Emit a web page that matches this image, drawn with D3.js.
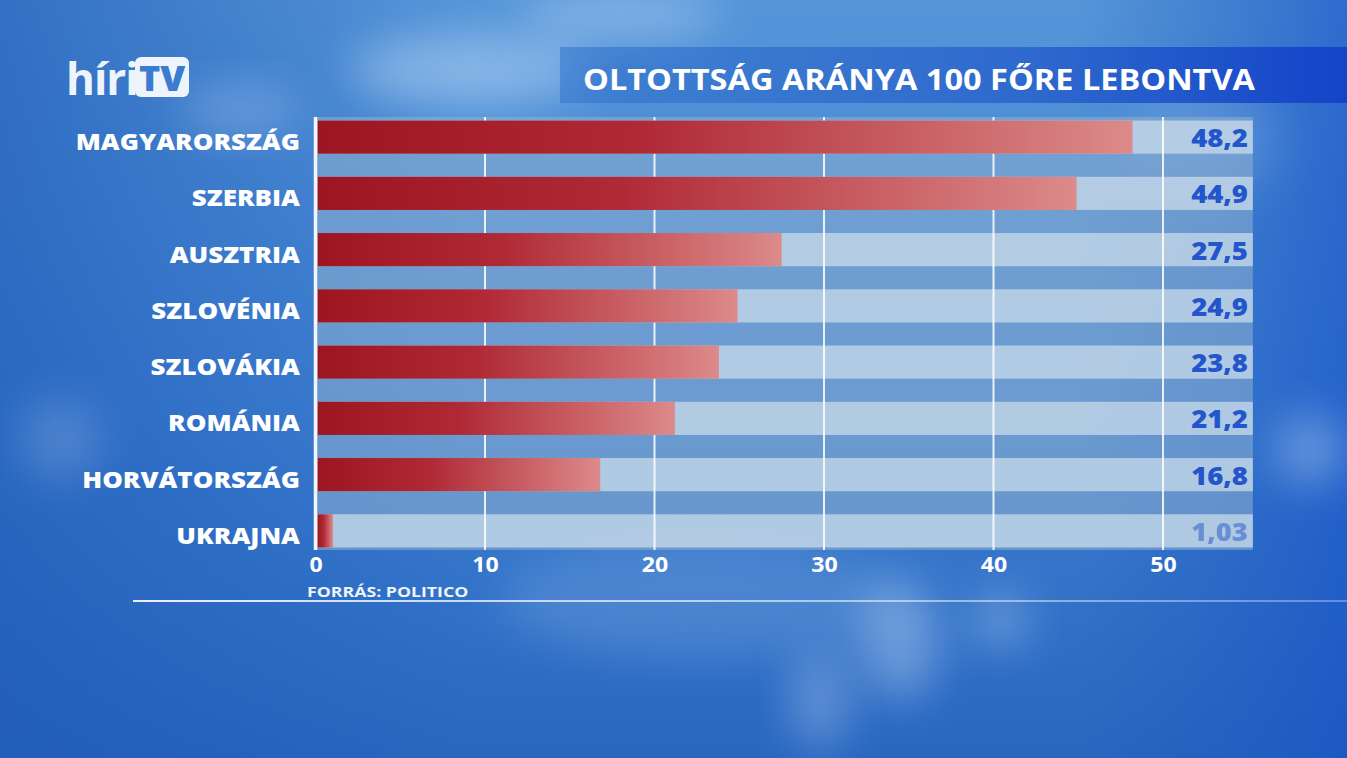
<!DOCTYPE html>
<html>
<head>
<meta charset="utf-8">
<script src="https://cdn.jsdelivr.net/npm/d3@7"></script>
<style>
html,body{margin:0;padding:0;background:#2f6fc6;overflow:hidden;}
svg{display:block;}
text{font-family:"Open Sans","Lato",sans-serif;}
</style>
</head>
<body>
<script>
const categories = ["MAGYARORSZÁG","SZERBIA","AUSZTRIA","SZLOVÉNIA","SZLOVÁKIA","ROMÁNIA","HORVÁTORSZÁG","UKRAJNA"];
const values = [48.2, 44.9, 27.5, 24.9, 23.8, 21.2, 16.8, 1.03];
const valueLabels = ["48,2","44,9","27,5","24,9","23,8","21,2","16,8","1,03"];
const tickValues = [0, 10, 20, 30, 40, 50];
const titleText = "OLTOTTSÁG ARÁNYA 100 FŐRE LEBONTVA";
const sourceText = "FORRÁS: POLITICO";
const xMax = 55.3;

const W = 1347, H = 758;
const svg = d3.select("body").append("svg").attr("width", W).attr("height", H);
const defs = svg.append("defs");

// widen text glyphs to mimic the broad geometric broadcast font
function widen(sel, factor){
  sel.each(function(){
    const len = this.getComputedTextLength();
    d3.select(this).attr("textLength", len*factor).attr("lengthAdjust","spacingAndGlyphs");
  });
}

// background gradients
const bg = defs.append("linearGradient").attr("id","bg").attr("x1",0).attr("y1",0).attr("x2",0).attr("y2",1);
bg.append("stop").attr("offset","0%").attr("stop-color","#5595d8");
bg.append("stop").attr("offset","55%").attr("stop-color","#3d7fd1");
bg.append("stop").attr("offset","100%").attr("stop-color","#2866c0");
const bgR = defs.append("linearGradient").attr("id","bgR").attr("x1",0).attr("y1",0).attr("x2",1).attr("y2",0);
bgR.append("stop").attr("offset","0%").attr("stop-color","#1d58b6").attr("stop-opacity",0.6);
bgR.append("stop").attr("offset","35%").attr("stop-color","#1d58b6").attr("stop-opacity",0);
bgR.append("stop").attr("offset","80%").attr("stop-color","#1d58b6").attr("stop-opacity",0);
bgR.append("stop").attr("offset","100%").attr("stop-color","#1450c8").attr("stop-opacity",0.6);
const blur = defs.append("filter").attr("id","blur").attr("x","-50%").attr("y","-50%").attr("width","200%").attr("height","200%");
blur.append("feGaussianBlur").attr("stdDeviation",22);

svg.append("rect").attr("width",W).attr("height",H).attr("fill","url(#bg)");
svg.append("rect").attr("width",W).attr("height",H).attr("fill","url(#bgR)");

// soft glows (decorative)
const glows = [[470,70,120,35,0.4],[620,15,100,25,0.35],[240,110,60,25,0.25],[900,640,40,60,0.35],[820,700,30,50,0.3],[1000,620,30,30,0.3],[1310,450,35,35,0.35],[700,600,200,60,0.15],[60,440,40,40,0.2],[1200,140,80,60,0.15]];
svg.append("g").selectAll("ellipse").data(glows).join("ellipse")
  .attr("cx",d=>d[0]).attr("cy",d=>d[1]).attr("rx",d=>d[2]).attr("ry",d=>d[3])
  .attr("fill","#d8ecff").attr("opacity",d=>d[4]).attr("filter","url(#blur)");

// header banner
const ban = defs.append("linearGradient").attr("id","ban").attr("x1",0).attr("y1",0).attr("x2",1).attr("y2",0);
ban.append("stop").attr("offset","0%").attr("stop-color","#3273cc").attr("stop-opacity",0.55);
ban.append("stop").attr("offset","60%").attr("stop-color","#2a64cc").attr("stop-opacity",0.9);
ban.append("stop").attr("offset","100%").attr("stop-color","#1443c8");
svg.append("rect").attr("x",560).attr("y",47).attr("width",W-560).attr("height",56).attr("fill","url(#ban)");
svg.append("text").attr("x",583).attr("y",90)
  .attr("fill","#ffffff").attr("font-size",28).attr("font-weight",700)
  .attr("textLength",672).attr("lengthAdjust","spacingAndGlyphs").text(titleText);

// logo
const logo = svg.append("g");
logo.append("text").attr("x",66).attr("y",95).attr("fill","#eef4fb").attr("font-size",44).attr("font-weight",700)
  .attr("font-family","Lato, sans-serif").attr("letter-spacing",-1).text("híri");
logo.append("rect").attr("x",135).attr("y",57).attr("width",54).attr("height",40).attr("rx",6).attr("fill","#eef4fb");
logo.append("text").attr("x",162).attr("y",91).attr("text-anchor","middle").attr("fill","#3b7bd0").attr("font-size",36)
  .attr("font-weight",900).attr("font-family","Lato, sans-serif").text("TV");

// scales
const x = d3.scaleLinear().domain([0, xMax]).range([315.5, 315.5 + xMax*16.95]);
const y = d3.scaleBand().domain(categories).range([109, 559]).paddingInner(0.41).paddingOuter(0.205);

// panel
const panelTop = 117, panelBot = 550;
svg.append("rect").attr("x",x(0)).attr("y",panelTop).attr("width",x(xMax)-x(0)).attr("height",panelBot-panelTop)
  .attr("fill","#90b0d0").attr("opacity",0.55);
// light row strips
svg.append("g").selectAll("rect").data(categories).join("rect")
  .attr("x",x(0)).attr("y",d=>y(d)).attr("width",x(xMax)-x(0)).attr("height",y.bandwidth())
  .attr("fill","#c9dbea").attr("opacity",0.75);

// grid
svg.append("g").selectAll("line").data(tickValues.filter(t=>t>0)).join("line")
  .attr("x1",d=>x(d)).attr("x2",d=>x(d)).attr("y1",panelTop).attr("y2",panelBot)
  .attr("stroke","#ffffff").attr("stroke-opacity",0.85).attr("stroke-width",2);

// bar gradient
const bgBar = defs.append("linearGradient").attr("id","barG").attr("x1",0).attr("y1",0).attr("x2",1).attr("y2",0);
bgBar.append("stop").attr("offset","0%").attr("stop-color","#9c1520");
bgBar.append("stop").attr("offset","40%").attr("stop-color","#b02a36");
bgBar.append("stop").attr("offset","100%").attr("stop-color","#dc8a8a");

svg.append("g").selectAll("rect").data(values).join("rect")
  .attr("x",x(0)+2).attr("y",(d,i)=>y(categories[i]))
  .attr("width",d=>x(d)-x(0)-2).attr("height",y.bandwidth())
  .attr("fill","url(#barG)");

// zero line
svg.append("line").attr("x1",x(0)).attr("x2",x(0)).attr("y1",panelTop).attr("y2",panelBot)
  .attr("stroke","#f2f6fb").attr("stroke-width",3.5);

// category labels
const catT = svg.append("g").selectAll("text").data(categories).join("text")
  .attr("x",300).attr("y",d=>y(d)+y.bandwidth()/2+13)
  .attr("text-anchor","end").attr("fill","#ffffff").attr("font-size",23).attr("font-weight",800)
  .text(d=>d);
widen(catT, 1.13);

// value labels
const valT = svg.append("g").selectAll("text").data(valueLabels).join("text")
  .attr("x",1248).attr("y",(d,i)=>y(categories[i])+y.bandwidth()/2+10)
  .attr("text-anchor","end").attr("fill","#2356cc").attr("font-size",25).attr("font-weight",800)
  .attr("opacity",(d,i)=>i===valueLabels.length-1?0.5:1)
  .text(d=>d);
widen(valT, 1.1);

// x axis
const axis = d3.axisBottom(x).tickValues(tickValues).tickSize(0).tickPadding(0).tickFormat(d3.format("d"));
const ax = svg.append("g").attr("transform","translate(0,557)").call(axis);
ax.select(".domain").remove();
const tickT = ax.selectAll("text").attr("fill","#ffffff").attr("font-size",21).attr("font-weight",700)
  .attr("font-family","'Open Sans', sans-serif").attr("dy","0.71em");
widen(tickT, 1.1);

// source
const srcT = svg.append("text").attr("x",307).attr("y",597).attr("fill","#eef4fb").attr("font-size",15).attr("font-weight",700).text(sourceText);
widen(srcT, 1.18);
const ln = defs.append("linearGradient").attr("id","ln").attr("x1",0).attr("y1",0).attr("x2",1).attr("y2",0);
ln.append("stop").attr("offset","0%").attr("stop-color","#ffffff").attr("stop-opacity",0.9);
ln.append("stop").attr("offset","100%").attr("stop-color","#ffffff").attr("stop-opacity",0.3);
svg.append("rect").attr("x",133).attr("y",600).attr("width",W-133).attr("height",2).attr("fill","url(#ln)");
</script>
</body>
</html>
